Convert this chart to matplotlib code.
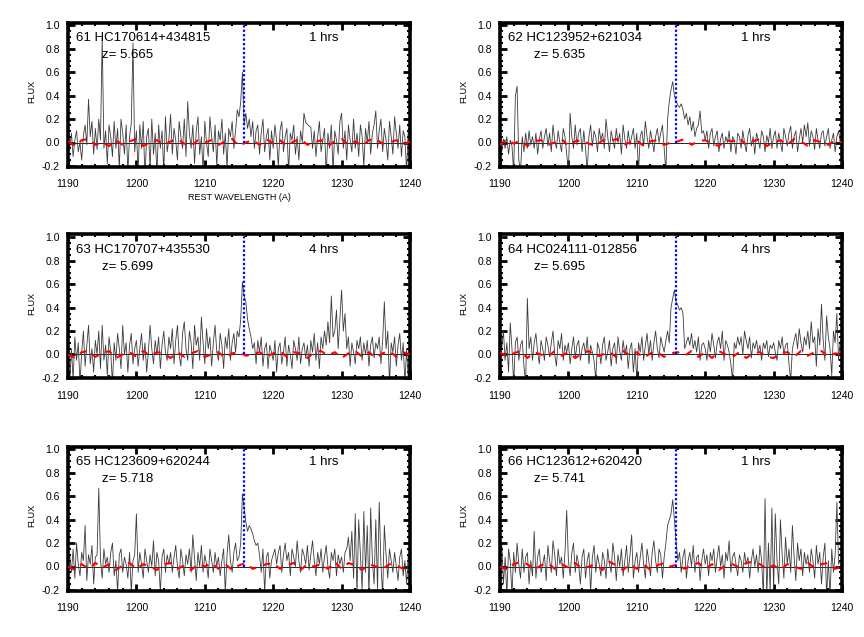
import numpy as np
import matplotlib
matplotlib.use("Agg")
import matplotlib.pyplot as plt
from matplotlib.ticker import MultipleLocator

plt.rcParams['font.family'] = ['Liberation Sans', 'DejaVu Sans']

# wavelength grid of the spectra (0.25 A sampling) and of the red noise trace (1 A)
wave_start, wave_step, n_spec = 1190.0, 0.25, 201
red_step, n_red = 1.0, 51

names = ["61 HC170614+434815", "62 HC123952+621034", "63 HC170707+435530",
         "64 HC024111-012856", "65 HC123609+620244", "66 HC123612+620420"]
redshifts = ["5.665", "5.635", "5.699", "5.695", "5.718", "5.741"]
exposures = ["1 hrs", "1 hrs", "4 hrs", "4 hrs", "1 hrs", "1 hrs"]
lya_rest = 1215.67

flux61 = [0.05, -0.05, 0.08, -0.12, 0.02, 0.10, -0.08, 0.00, -0.15, 0.06, 0.15, -0.02, 0.37, 0.05, 0.18, -0.10, 0.12, -0.06, 0.20, 0.02,
          0.90, -0.05, 0.10, -0.18, 0.15, 0.05, -0.12, 0.18, -0.05, 0.12, -0.22, 0.20, 0.08, -0.10, 0.15, -0.25, 0.05, 0.16, 0.85, -0.08,
          0.10, -0.25, 0.15, -0.05, 0.18, -0.30, 0.05, 0.12, -0.22, 0.20, -0.10, 0.08, -0.28, 0.15, -0.05, 0.10, -0.25, 0.22, -0.08, 0.03,
          0.24, -0.10, 0.12, 0.02, -0.15, 0.18, 0.05, -0.05, 0.20, -0.12, 0.35, 0.08, -0.05, 0.15, -0.18, 0.10, 0.22, -0.10, 0.05, -0.25,
          0.18, 0.00, -0.12, 0.22, 0.05, -0.08, 0.15, -0.20, 0.10, 0.02, 0.20, -0.10, 0.08, -0.22, 0.12, 0.05, 0.18, -0.05, 0.10, 0.28,
          0.22, 0.35, 0.60, 0.15, 0.25, 0.12, 0.20, 0.05, 0.18, -0.05, 0.10, 0.15, -0.10, 0.08, 0.20, -0.08, 0.05, 0.12, -0.15, 0.10,
          -0.05, 0.15, 0.02, -0.20, 0.10, 0.18, -0.08, 0.05, 0.12, -0.25, 0.08, 0.02, 0.15, -0.10, 0.05, -0.15, 0.10, 0.00, 0.25, 0.17,
          0.155, 0.14, 0.13, -0.05, 0.10, -0.12, 0.05, 0.18, -0.08, 0.02, 0.12, -0.28, 0.08, -0.05, 0.15, -0.25, 0.10, 0.02, -0.10, 0.18,
          0.25, -0.05, 0.10, -0.15, 0.15, 0.02, -0.08, 0.20, -0.05, 0.08, -0.12, 0.15, 0.05, -0.20, 0.12, 0.00, 0.18, -0.10, 0.08, 0.15,
          0.27, -0.05, 0.10, 0.20, -0.08, 0.12, 0.02, -0.15, 0.18, 0.05, -0.10, 0.22, 0.08, -0.05, 0.15, -0.12, 0.10, 0.05, -0.25, 0.12,
          0.05]

flux62 = [0.00, -0.08, 0.03, -0.05, 0.05, -0.10, 0.02, -0.03, -0.25, 0.40, 0.48, -0.15, -0.25, 0.05, -0.08, 0.08, -0.05, 0.10, -0.02, 0.05,
          -0.05, 0.08, -0.10, 0.03, 0.10, -0.05, 0.05, 0.12, -0.03, 0.08, -0.08, 0.15, 0.02, -0.05, 0.10, 0.00, -0.08, 0.12, 0.05, -0.10,
          -0.25, 0.25, 0.05, -0.05, 0.15, -0.02, 0.08, 0.12, -0.08, 0.10, -0.05, -0.25, 0.05, 0.15, -0.03, 0.10, 0.05, -0.08, 0.12, 0.02,
          0.08, -0.05, 0.20, 0.05, -0.08, 0.10, 0.02, -0.05, 0.12, 0.00, 0.08, -0.10, 0.15, 0.03, -0.05, 0.10, -0.02, 0.05, 0.12, -0.05,
          0.08, -0.25, 0.05, 0.10, -0.03, 0.18, 0.05, -0.05, 0.10, 0.02, -0.08, 0.05, 0.12, 0.00, 0.08, 0.15, -0.05, -0.25, 0.20, 0.35,
          0.45, 0.52, 0.40, 0.35, 0.32, 0.30, 0.33, 0.28, 0.20, 0.25, 0.15, 0.22, 0.10, 0.18, 0.05, 0.12, 0.15, 0.27, 0.08, 0.10,
          0.02, 0.10, -0.05, 0.08, 0.12, -0.03, 0.05, 0.10, -0.08, 0.03, 0.08, -0.05, 0.05, 0.00, 0.10, -0.08, 0.05, 0.02, -0.10, 0.08,
          0.05, -0.05, 0.10, 0.00, -0.08, 0.06, 0.12, -0.03, 0.05, -0.10, 0.08, 0.02, -0.05, 0.10, 0.05, -0.08, 0.06, 0.00, 0.12, -0.05,
          0.05, 0.10, -0.05, 0.08, 0.00, -0.08, 0.12, 0.05, -0.03, 0.08, 0.14, -0.05, 0.05, 0.10, -0.08, 0.03, 0.12, 0.00, 0.15, 0.05,
          0.17, -0.03, 0.10, 0.05, -0.06, 0.12, 0.02, -0.05, 0.08, 0.10, -0.03, 0.05, 0.12, -0.05, 0.02, 0.08, -0.08, 0.05, 0.10, 0.00,
          0.05]

flux63 = [-0.10, -0.25, 0.05, -0.22, 0.15, -0.05, 0.10, -0.25, 0.02, 0.20, -0.10, 0.08, 0.25, -0.08, 0.05, -0.15, 0.12, 0.00, 0.20, -0.12,
          0.25, -0.05, 0.08, -0.18, 0.15, 0.02, -0.25, 0.10, -0.05, 0.18, 0.05, -0.12, 0.25, 0.00, 0.10, -0.15, 0.08, 0.18, -0.08, 0.05,
          0.12, -0.10, 0.05, 0.18, -0.05, 0.10, -0.15, 0.02, 0.25, 0.05, -0.08, 0.12, 0.00, 0.15, -0.12, 0.08, 0.20, 0.02, -0.05, 0.15,
          0.05, 0.22, -0.08, 0.12, 0.25, 0.00, -0.10, 0.18, 0.28, 0.05, -0.05, 0.20, 0.10, -0.12, 0.25, 0.08, 0.15, -0.05, 0.32, 0.10,
          -0.08, 0.22, 0.05, 0.15, -0.10, 0.10, 0.25, 0.02, -0.05, 0.18, 0.08, -0.12, 0.15, 0.05, 0.22, -0.05, 0.10, 0.18, 0.02, 0.20,
          0.15, 0.30, 0.62, 0.50, 0.45, 0.30, 0.22, 0.15, 0.05, 0.10, -0.08, 0.12, 0.02, 0.15, -0.10, 0.05, 0.10, -0.12, 0.08, 0.02,
          -0.05, 0.12, -0.15, 0.05, 0.10, -0.08, 0.02, 0.15, -0.10, 0.08, 0.00, -0.12, 0.12, 0.05, -0.05, 0.15, -0.08, 0.05, 0.10, -0.03,
          0.08, -0.10, 0.12, 0.02, 0.18, -0.05, 0.10, -0.12, 0.15, 0.05, 0.20, 0.08, 0.28, 0.10, 0.50, 0.15, 0.20, 0.38, 0.05, 0.30,
          0.55, 0.20, 0.35, 0.05, 0.15, -0.10, 0.10, 0.02, -0.08, 0.12, 0.05, 0.15, -0.05, 0.10, 0.00, 0.12, -0.10, 0.08, 0.15, -0.03,
          0.10, 0.05, 0.15, -0.08, 0.12, 0.45, 0.05, 0.20, -0.25, 0.10, 0.02, 0.15, -0.10, 0.08, 0.18, -0.05, 0.10, -0.25, 0.05, -0.22,
          0.00]

flux64 = [0.15, 0.05, 0.20, -0.05, 0.10, -0.15, 0.27, 0.05, -0.25, 0.10, 0.15, -0.05, 0.08, 0.12, -0.10, -0.25, 0.48, 0.05, 0.15, -0.05,
          0.10, 0.18, 0.02, -0.08, 0.12, 0.05, -0.05, 0.15, 0.08, -0.02, 0.10, 0.20, 0.00, -0.10, 0.12, 0.05, 0.18, -0.05, 0.08, 0.02,
          0.10, -0.08, 0.05, 0.15, -0.03, 0.08, 0.12, -0.05, 0.05, 0.10, 0.00, 0.15, -0.08, 0.08, 0.02, -0.05, -0.22, 0.10, 0.05, -0.08,
          0.08, 0.15, -0.05, 0.02, 0.12, -0.10, 0.05, 0.10, -0.08, 0.15, 0.03, -0.05, 0.12, 0.00, 0.08, -0.12, 0.05, 0.10, -0.15, 0.05,
          -0.22, 0.10, 0.02, 0.15, -0.05, 0.08, 0.18, 0.00, 0.12, -0.05, 0.10, 0.20, 0.05, -0.03, 0.15, 0.08, 0.02, 0.12, 0.20, 0.10,
          0.40, 0.48, 0.55, 0.45, 0.42, 0.38, 0.40, 0.35, 0.05, 0.10, 0.15, 0.08, 0.18, 0.05, 0.12, 0.02, 0.15, -0.05, 0.08, 0.10,
          0.05, -0.05, 0.12, 0.02, 0.18, 0.08, -0.03, 0.10, 0.15, 0.05, 0.20, -0.05, 0.12, 0.08, 0.02, -0.08, -0.22, 0.10, 0.05, 0.15,
          0.08, 0.15, 0.00, 0.20, 0.12, 0.05, 0.15, -0.03, 0.10, 0.05, 0.12, 0.02, 0.08, -0.05, 0.10, 0.05, 0.12, -0.02, 0.08, 0.05,
          0.10, 0.02, -0.05, 0.12, 0.05, 0.15, 0.00, 0.08, 0.10, -0.08, -0.22, 0.05, 0.12, 0.18, 0.05, 0.22, 0.10, 0.02, 0.15, 0.08,
          0.20, 0.05, 0.28, 0.10, 0.15, -0.10, 0.22, 0.08, 0.43, 0.12, -0.05, 0.33, 0.15, 0.05, -0.18, 0.20, 0.10, 0.35, -0.05, 0.12,
          0.05]

flux65 = [0.05, 0.10, -0.05, 0.15, -0.10, 0.20, 0.02, -0.08, 0.12, 0.05, 0.35, -0.12, 0.10, 0.02, 0.18, -0.15, 0.08, 0.10, 0.67, 0.05,
          -0.10, 0.15, 0.02, 0.08, -0.05, 0.12, 0.20, -0.08, 0.05, -0.22, 0.10, 0.15, -0.05, 0.08, 0.02, -0.10, 0.12, -0.22, 0.05, 0.10,
          0.45, -0.05, 0.12, 0.02, -0.10, 0.15, 0.05, -0.05, 0.10, 0.00, 0.22, -0.08, 0.12, 0.05, -0.22, 0.08, 0.15, -0.05, 0.10, 0.02,
          0.12, -0.05, 0.08, 0.18, 0.00, -0.10, 0.15, 0.05, -0.08, 0.10, 0.02, 0.15, -0.05, 0.27, 0.08, -0.12, 0.12, 0.00, 0.18, -0.05,
          0.10, 0.02, -0.10, 0.15, 0.05, -0.05, 0.12, 0.00, 0.08, -0.08, 0.05, 0.15, -0.22, 0.10, 0.27, 0.05, -0.05, 0.12, 0.20, 0.05,
          0.08, 0.20, 0.62, 0.50, 0.38, 0.30, 0.35, 0.32, 0.28, 0.22, 0.18, 0.20, 0.10, -0.05, 0.15, -0.22, 0.08, 0.12, -0.10, 0.05,
          0.10, 0.15, 0.02, 0.12, 0.18, -0.05, 0.10, 0.20, 0.05, 0.12, -0.08, 0.15, 0.08, 0.00, 0.22, 0.05, -0.05, 0.15, 0.10, 0.02,
          0.18, -0.03, 0.10, 0.22, 0.05, -0.08, 0.12, 0.02, 0.15, -0.05, 0.08, 0.18, 0.00, -0.10, 0.12, 0.05, 0.15, -0.08, 0.10, 0.02,
          0.08, -0.05, 0.12, 0.15, 0.25, 0.05, 0.30, -0.10, 0.45, -0.25, 0.40, 0.10, -0.20, 0.47, -0.05, 0.35, -0.25, 0.50, 0.05, -0.15,
          0.40, -0.20, 0.55, 0.02, -0.25, 0.35, 0.10, -0.10, 0.15, 0.05, -0.05, 0.12, 0.00, -0.12, 0.08, 0.15, -0.08, 0.05, -0.15, 0.10,
          0.02]

flux66 = [0.00, 0.20, -0.15, 0.08, -0.25, 0.15, 0.05, -0.25, 0.12, -0.05, 0.20, 0.02, -0.10, 0.15, -0.05, 0.08, 0.12, -0.15, 0.05, -0.08,
          0.30, -0.10, 0.08, 0.15, -0.05, 0.02, 0.10, -0.12, 0.18, 0.05, -0.05, 0.22, 0.10, -0.08, 0.15, 0.02, 0.08, -0.10, 0.12, 0.48,
          0.05, -0.08, 0.12, 0.20, -0.05, 0.10, 0.02, -0.15, 0.08, 0.15, -0.10, 0.05, 0.12, -0.22, 0.08, 0.18, -0.05, 0.10, 0.02, -0.08,
          0.12, 0.05, -0.10, 0.15, 0.02, -0.05, 0.20, 0.08, -0.12, 0.10, 0.00, 0.15, -0.08, 0.05, 0.18, -0.05, 0.10, 0.27, -0.10, 0.05,
          0.12, -0.05, 0.08, 0.20, 0.02, -0.10, 0.15, 0.05, -0.08, 0.12, 0.22, 0.05, -0.05, 0.15, 0.10, -0.10, 0.08, 0.20, 0.35, 0.40,
          0.45, 0.57, 0.40, 0.20, 0.05, 0.12, -0.05, 0.08, 0.15, -0.10, 0.05, 0.12, 0.00, 0.18, -0.05, 0.08, 0.10, -0.12, 0.05, 0.15,
          0.02, 0.10, -0.08, 0.12, 0.05, 0.15, -0.05, 0.08, 0.18, 0.00, 0.10, -0.10, 0.12, 0.05, 0.22, -0.05, 0.08, 0.12, 0.02, -0.08,
          0.10, 0.05, -0.05, 0.12, 0.02, 0.08, -0.10, 0.05, 0.15, 0.00, 0.10, -0.05, 0.18, 0.05, -0.25, 0.58, -0.25, 0.20, -0.22, 0.50,
          -0.20, 0.45, 0.05, -0.15, 0.40, 0.10, -0.10, 0.25, 0.02, 0.15, -0.05, 0.35, 0.08, -0.12, 0.20, 0.05, 0.15, -0.08, 0.12, 0.02,
          0.10, -0.05, 0.15, 0.05, -0.10, 0.18, 0.02, 0.12, -0.15, 0.08, 0.20, -0.25, 0.05, -0.25, 0.15, -0.05, 0.10, 0.55, 0.02, 0.05,
          0.00]

red61 = [0.01, -0.03, 0.02, 0.03, -0.02, 0.00, -0.03, 0.02, -0.02, 0.01, 0.03, -0.03, 0.00, 0.02, -0.02, 0.01, 0.03, -0.01, -0.03, 0.02,
         0.00, 0.02, -0.02, 0.01, 0.03, -0.03, 0.00, 0.02, -0.02, 0.03, -0.01, 0.02, -0.03, 0.01, 0.03, -0.02, 0.00, 0.02, -0.03, 0.01,
         0.03, -0.02, 0.01, -0.03, 0.02, 0.03, -0.01, 0.00, 0.02, -0.02, 0.01]
red62 = [-0.02, 0.03, -0.01, 0.02, -0.03, 0.01, 0.02, -0.02, 0.00, 0.03, -0.03, 0.01, 0.02, -0.01, -0.03, 0.02, 0.01, 0.03, -0.02, 0.00,
         0.02, -0.03, 0.01, 0.02, -0.02, 0.00, 0.01, 0.03, -0.02, 0.01, 0.02, -0.01, -0.03, 0.02, 0.01, 0.04, -0.02, 0.01, 0.03, -0.03,
         0.00, 0.02, -0.02, 0.03, 0.01, -0.03, 0.02, 0.00, -0.02, 0.02, 0.00]
red63 = [0.00, -0.03, 0.02, 0.03, -0.02, 0.01, 0.03, -0.03, 0.00, 0.02, -0.02, 0.03, -0.01, 0.02, 0.01, -0.03, 0.02, -0.02, 0.01, 0.03,
         -0.02, 0.00, 0.02, -0.03, 0.01, 0.02, -0.01, 0.00, 0.02, -0.02, 0.01, 0.03, -0.02, 0.02, 0.01, -0.03, 0.02, 0.03, -0.01, 0.02,
         -0.03, 0.01, 0.03, -0.02, 0.02, -0.03, 0.01, 0.03, -0.02, 0.02, 0.00]
red64 = [0.02, -0.02, 0.01, 0.03, -0.03, 0.02, 0.00, -0.02, 0.03, -0.01, 0.02, -0.03, 0.01, 0.03, -0.02, 0.00, 0.02, -0.02, 0.03, -0.01,
         0.02, -0.03, 0.01, 0.02, -0.02, 0.01, 0.02, -0.01, 0.03, -0.02, 0.02, -0.03, 0.03, 0.00, -0.02, 0.02, -0.03, 0.01, 0.02, -0.02,
         -0.03, 0.01, 0.02, -0.02, 0.03, -0.01, 0.02, 0.03, -0.02, 0.01, 0.00]
red65 = [0.00, -0.03, 0.02, -0.02, 0.03, -0.01, 0.02, -0.03, 0.01, 0.03, -0.02, 0.02, 0.00, -0.03, 0.02, 0.03, -0.02, 0.01, -0.03, 0.02,
         0.00, 0.03, -0.02, 0.02, -0.03, 0.01, 0.03, -0.02, 0.00, 0.02, 0.03, -0.02, 0.01, 0.03, -0.03, 0.02, 0.00, 0.02, -0.02, 0.04,
         -0.02, 0.03, 0.01, -0.03, 0.02, 0.00, -0.02, 0.02, 0.01, -0.02, 0.00]
red66 = [0.00, -0.03, 0.02, 0.04, 0.02, -0.03, 0.01, 0.03, -0.02, 0.02, -0.01, 0.03, -0.02, 0.00, 0.02, -0.03, 0.04, 0.01, -0.03, 0.02,
         -0.02, 0.02, -0.03, 0.01, 0.03, 0.00, 0.02, -0.02, 0.01, 0.03, -0.02, 0.02, -0.03, 0.01, 0.02, -0.01, 0.03, 0.04, 0.02, -0.02,
         0.01, -0.03, 0.02, 0.00, -0.02, 0.03, -0.01, 0.02, 0.03, -0.02, 0.00]

fluxes = [flux61, flux62, flux63, flux64, flux65, flux66]
reds = [red61, red62, red63, red64, red65, red66]

wave = wave_start + wave_step * np.arange(n_spec)
wave_red = wave_start + red_step * np.arange(n_red)

fig = plt.figure(figsize=(8.64, 6.37), dpi=100)
W, H = 864.0, 637.0
col_left = [68, 500]
ax_w = 342
row_top = [22.5, 234.5, 446.5]
ax_h = 144

for i in range(6):
    r, c = divmod(i, 2)
    ax = fig.add_axes([col_left[c] / W, 1 - (row_top[r] + ax_h) / H, ax_w / W, ax_h / H])
    ax.set_xlim(1190, 1240)
    ax.set_ylim(-0.205, 1.025)
    ax.axhline(0.0, color='black', lw=0.6, zorder=1)
    ax.plot(wave, fluxes[i], color='#3c3c3c', lw=0.6, zorder=2)
    ax.plot(wave_red, reds[i], color='red', lw=1.5, ls=(0, (3.5, 3.5)), zorder=3)
    ax.plot([lya_rest, lya_rest], [0.0, 1.025], color='blue', lw=1.6, ls=(0, (1, 1)), zorder=4)

    for s in ax.spines.values():
        s.set_linewidth(2.6)
    ax.xaxis.set_major_locator(MultipleLocator(10))
    ax.xaxis.set_minor_locator(MultipleLocator(2))
    ax.yaxis.set_major_locator(MultipleLocator(0.2))
    ax.yaxis.set_minor_locator(MultipleLocator(0.05))
    ax.tick_params(which='major', direction='in', length=5, width=2, top=True, right=True,
                   labelsize=7.5, pad=6)
    ax.tick_params(which='minor', direction='in', length=2.5, width=1.5, top=True, right=True)
    ax.tick_params(axis='x', which='major', pad=9)
    ax.set_yticks([-0.2, 0.0, 0.2, 0.4, 0.6, 0.8, 1.0])
    ax.set_yticklabels(['-0.2', '0.0', '0.2', '0.4', '0.6', '0.8', '1.0'])
    ax.set_ylabel('FLUX', fontsize=6.5)
    ax.yaxis.set_label_coords(-0.094, 0.52)

    ax.text(1191.2, 0.89, names[i], fontsize=9.5, va='center', ha='left')
    ax.text(1195.0, 0.75, 'z= ' + redshifts[i], fontsize=9.5, va='center', ha='left')
    ax.text(1225.3, 0.89, exposures[i], fontsize=9.5, va='center', ha='left')
    if i == 0:
        ax.set_xlabel('REST WAVELENGTH (A)', fontsize=6.5, labelpad=3)

fig.savefig('out.png', dpi=100)
